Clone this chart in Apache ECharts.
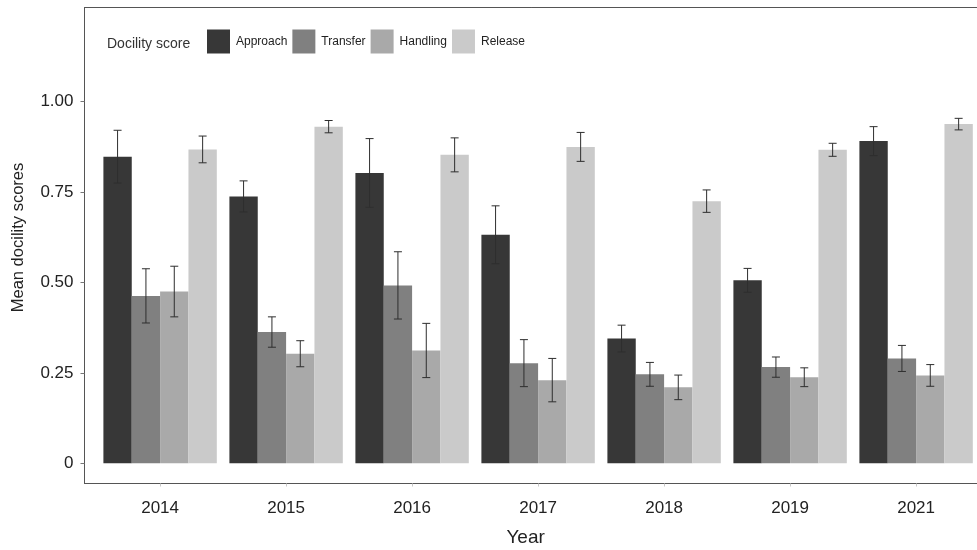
<!DOCTYPE html>
<html>
<head>
<meta charset="utf-8">
<script src="https://cdn.jsdelivr.net/npm/echarts@6/dist/echarts.min.js"></script>
<style>
  html, body { margin: 0; padding: 0; background: #fff; }
  #chart { width: 977px; height: 550px; }
</style>
</head>
<body>
<div id="chart"></div>
<script>
// Mean docility scores per year and stage, with standard-error bars
const years = ['2014', '2015', '2016', '2017', '2018', '2019', '2021'];
const stages = ['Approach', 'Transfer', 'Handling', 'Release'];

const approachMean = [0.848, 0.738, 0.803, 0.632, 0.345, 0.506, 0.891];
const transferMean = [0.463, 0.363, 0.492, 0.277, 0.246, 0.266, 0.290];
const handlingMean = [0.475, 0.303, 0.312, 0.230, 0.210, 0.238, 0.243];
const releaseMean  = [0.868, 0.931, 0.853, 0.875, 0.725, 0.867, 0.938];

const approachErr = [0.073, 0.043, 0.095, 0.080, 0.037, 0.033, 0.040];
const transferErr = [0.075, 0.042, 0.093, 0.065, 0.033, 0.028, 0.036];
const handlingErr = [0.070, 0.036, 0.075, 0.060, 0.034, 0.026, 0.030];
const releaseErr  = [0.037, 0.017, 0.047, 0.040, 0.031, 0.018, 0.016];

const means = [approachMean, transferMean, handlingMean, releaseMean];
const errs = [approachErr, transferErr, handlingErr, releaseErr];
const colors = ['#373737', '#808080', '#a9a9a9', '#cacaca'];

const FONT = 'Liberation Sans, Arial, sans-serif';
const CATEGORY_GAP = 0.10;
const EXPAND = 0.6;          // discrete-axis padding, in category widths
const BAND = 126;            // pixel width of one year
const FRAME = { show: true, onZero: false, lineStyle: { color: '#555', width: 1 } };

const chart = echarts.init(document.getElementById('chart'), null, { renderer: 'canvas' });

const barSeries = stages.map((name, k) => ({
  name: name,
  type: 'bar',
  xAxisIndex: 2,
  yAxisIndex: 1,
  barGap: '0%',
  barCategoryGap: (CATEGORY_GAP * 100) + '%',
  itemStyle: { color: colors[k] },
  data: means[k],
  z: 2
}));

// error bars drawn at each bar's centre
const errSeries = stages.map((name, k) => ({
  type: 'custom',
  xAxisIndex: 2,
  yAxisIndex: 1,
  silent: true,
  z: 5,
  data: means[k].map((m, i) => [i, m - errs[k][i], m + errs[k][i]]),
  renderItem: function (params, api) {
    const band = api.size([1, 0])[0];
    const barW = band * (1 - CATEGORY_GAP) / stages.length;
    const c = api.coord([api.value(0), 0]);
    const x = c[0] + (k - (stages.length - 1) / 2) * barW;
    const lo = api.coord([api.value(0), api.value(1)])[1];
    const hi = api.coord([api.value(0), api.value(2)])[1];
    const cap = 4;
    const style = { stroke: '#2e2e2e', lineWidth: 1 };
    return {
      type: 'group',
      children: [
        { type: 'line', shape: { x1: x, y1: lo, x2: x, y2: hi }, style: style },
        { type: 'line', shape: { x1: x - cap, y1: hi, x2: x + cap, y2: hi }, style: style },
        { type: 'line', shape: { x1: x - cap, y1: lo, x2: x + cap, y2: lo }, style: style }
      ]
    };
  }
}));

const frameLeft = 84.5;
const frameWidth = (years.length - 1 + 2 * EXPAND) * BAND;

chart.setOption({
  animation: false,
  backgroundColor: '#fff',
  textStyle: { fontFamily: FONT },
  title: {
    text: 'Docility score',
    left: 102,
    top: 32,
    textStyle: { fontFamily: FONT, fontSize: 14, fontWeight: 'normal', color: '#333' }
  },
  legend: {
    data: stages,
    left: 207,
    top: 29.5,
    padding: 0,
    itemWidth: 23,
    itemHeight: 24,
    itemGap: 5,
    icon: 'rect',
    textStyle: { fontFamily: FONT, fontSize: 12, color: '#222', padding: [0, 0, 0, 1] }
  },
  grid: [
    // outer panel: left, top and bottom rules (the right side runs past the page)
    { left: frameLeft, top: 7.5, width: frameWidth, bottom: 66.5, outerBoundsMode: 'none', containLabel: false },
    // data area: 0..1 vertically, years inset by the discrete padding
    { left: frameLeft + (EXPAND - 0.5) * BAND, top: 101.7, width: years.length * BAND, bottom: 86.7, outerBoundsMode: 'none', containLabel: false }
  ],
  xAxis: [
    {
      // bottom rule of the panel with the year ticks hanging below it
      gridIndex: 0, type: 'value', min: -EXPAND, max: years.length - 1 + EXPAND, position: 'bottom',
      axisLine: FRAME,
      axisTick: { show: true, length: 3, lineStyle: { color: '#c8c8c8' }, customValues: years.map((y, i) => i) },
      axisLabel: { show: false }, splitLine: { show: false }
    },
    {
      gridIndex: 0, type: 'value', min: 0, max: 1, position: 'top',
      axisLine: FRAME, axisTick: { show: false }, axisLabel: { show: false }, splitLine: { show: false }
    },
    {
      gridIndex: 1,
      type: 'category',
      data: years,
      position: 'bottom',
      offset: 20.2,
      axisLine: { show: false },
      axisTick: { show: false },
      axisLabel: { fontFamily: FONT, fontSize: 17, color: '#222', margin: 16 },
      name: 'Year',
      nameLocation: 'middle',
      nameGap: 45,
      nameTextStyle: { fontFamily: FONT, fontSize: 19, color: '#222', padding: [0, 25, 0, 0] }
    }
  ],
  yAxis: [
    {
      gridIndex: 0, type: 'value', min: 0, max: 1, position: 'left',
      axisLine: FRAME, axisTick: { show: false }, axisLabel: { show: false }, splitLine: { show: false },
      name: 'Mean docility scores',
      nameLocation: 'middle',
      nameGap: 58,
      nameTextStyle: { fontFamily: FONT, fontSize: 16.5, color: '#222', padding: [0, 0, 0, 16] }
    },
    {
      gridIndex: 1,
      type: 'value',
      min: 0,
      max: 1,
      interval: 0.25,
      offset: (EXPAND - 0.5) * BAND,
      axisLine: { show: false },
      splitLine: { show: false },
      axisTick: { show: true, length: 4, lineStyle: { color: '#777' } },
      axisLabel: {
        fontFamily: FONT, fontSize: 17, color: '#222', margin: 11,
        formatter: v => (v === 0 ? '0' : v.toFixed(2))
      }
    }
  ],
  series: barSeries.concat(errSeries)
});
</script>
</body>
</html>
